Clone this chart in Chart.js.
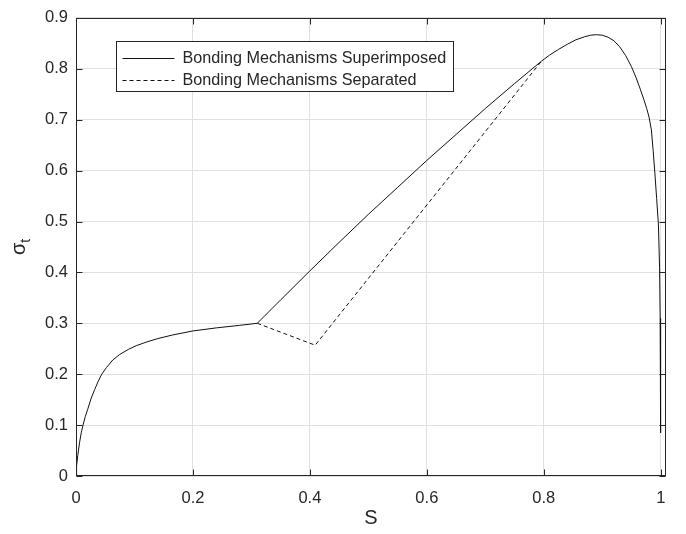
<!DOCTYPE html>
<html>
<head>
<meta charset="utf-8">
<script src="https://cdn.jsdelivr.net/npm/chart.js@4.4.0/dist/chart.umd.min.js"></script>
<style>
html,body{margin:0;padding:0;background:#fff;}
#wrap{width:686px;height:534px;}
</style>
</head>
<body>
<div id="wrap"><canvas id="c" width="686" height="534"></canvas></div>
<script>
// ---- data ----
const superS = [0, 0.001, 0.003, 0.006, 0.009, 0.012, 0.016, 0.020, 0.026, 0.032, 0.038, 0.044, 0.052, 0.063, 0.075, 0.090, 0.103, 0.120, 0.140, 0.165, 0.200, 0.240, 0.280, 0.310,
  0.350, 0.400, 0.450, 0.500, 0.550, 0.600, 0.650, 0.700, 0.750, 0.796,
  0.810, 0.825, 0.840, 0.855, 0.870, 0.880, 0.890, 0.900, 0.910, 0.920, 0.930, 0.940, 0.950, 0.958, 0.965, 0.971, 0.976, 0.980, 0.984, 0.987, 0.990, 0.993, 0.996, 0.998, 0.999, 0.9995, 1.000];
const superSigma = [0, 0.020, 0.040, 0.065, 0.085, 0.100, 0.117, 0.131, 0.153, 0.170, 0.186, 0.200, 0.213, 0.228, 0.239, 0.249, 0.256, 0.263, 0.270, 0.277, 0.285, 0.291, 0.296, 0.300,
  0.346, 0.403, 0.459, 0.514, 0.567, 0.620, 0.671, 0.722, 0.771, 0.815,
  0.827, 0.838, 0.848, 0.857, 0.863, 0.866, 0.867, 0.866, 0.862, 0.855, 0.843, 0.826, 0.804, 0.782, 0.760, 0.740, 0.722, 0.705, 0.680, 0.640, 0.595, 0.545, 0.495, 0.410, 0.310, 0.200, 0.085];
const sepS = [0.310, 0.409, 0.796];
const sepSigma = [0.300, 0.257, 0.815];
const xTicks = [0, 0.2, 0.4, 0.6, 0.8, 1];
const yTicks = [0, 0.1, 0.2, 0.3, 0.4, 0.5, 0.6, 0.7, 0.8, 0.9];
const seriesLabels = ['Bonding Mechanisms Superimposed', 'Bonding Mechanisms Separated'];
const xTitle = 'S';
const yTitleMain = 'σ';
const yTitleSub = 't';

const FONT = "'Liberation Sans', Arial, Helvetica, sans-serif";
const AXIS = '#262626';
const GRID = '#e0e0e0';

const toPts = (xs, ys) => xs.map((x, i) => ({x: x, y: ys[i]}));

const matlabAxes = {
  id: 'matlabAxes',
  afterDatasetsDraw(chart) {
    const ctx = chart.ctx;
    const a = chart.chartArea;
    const xs = chart.scales.x, ys = chart.scales.y;
    ctx.save();
    ctx.strokeStyle = AXIS;
    ctx.lineWidth = 1;
    ctx.beginPath();
    const L = Math.round(a.left) + 0.5, R = Math.round(a.right) - 0.5;
    const T = Math.round(a.top) + 0.5, B = Math.round(a.bottom) - 0.5;
    const tl = 6;
    xTicks.forEach(v => {
      const p = Math.round(xs.getPixelForValue(v)) + 0.5;
      ctx.moveTo(p, B); ctx.lineTo(p, B - tl);
      ctx.moveTo(p, T); ctx.lineTo(p, T + tl);
    });
    yTicks.forEach(v => {
      const p = Math.round(ys.getPixelForValue(v)) + 0.5;
      ctx.moveTo(L, p); ctx.lineTo(L + tl, p);
      ctx.moveTo(R, p); ctx.lineTo(R - tl, p);
    });
    ctx.stroke();
    ctx.strokeRect(L, T, R - L, B - T);

    // legend
    const lf = 16.2;
    ctx.font = lf + 'px ' + FONT;
    const tw = Math.max(...seriesLabels.map(s => ctx.measureText(s).width));
    const lx = Math.round(a.left + 40) + 0.5;
    const ly = Math.round(a.top + 23) + 0.5;
    const lw = Math.round(tw + 73), lh = 50;
    ctx.fillStyle = '#fff';
    ctx.fillRect(lx, ly, lw, lh);
    ctx.strokeStyle = AXIS;
    ctx.strokeRect(lx, ly, lw, lh);
    chart.data.datasets.forEach((ds, i) => {
      const ry = Math.round(ly + 16 + i * 22) + 0.5;
      ctx.beginPath();
      ctx.strokeStyle = ds.borderColor;
      ctx.lineWidth = ds.borderWidth;
      ctx.setLineDash(ds.borderDash || []);
      ctx.moveTo(lx + 6, ry); ctx.lineTo(lx + 58, ry);
      ctx.stroke();
      ctx.setLineDash([]);
      ctx.fillStyle = AXIS;
      ctx.textBaseline = 'middle';
      ctx.textAlign = 'left';
      ctx.fillText(ds.label, lx + 66, ry);
    });

    // y title sigma_t
    const mf = 20, sf = 14;
    ctx.font = mf + 'px ' + FONT;
    const w1 = ctx.measureText(yTitleMain).width;
    ctx.font = sf + 'px ' + FONT;
    const w2 = ctx.measureText(yTitleSub).width;
    const cy = (a.top + a.bottom) / 2;
    ctx.translate(25, cy + (w1 + w2) / 2);
    ctx.rotate(-Math.PI / 2);
    ctx.fillStyle = AXIS;
    ctx.textAlign = 'left';
    ctx.textBaseline = 'alphabetic';
    ctx.font = mf + 'px ' + FONT;
    ctx.fillText(yTitleMain, 0, 0);
    ctx.font = sf + 'px ' + FONT;
    ctx.fillText(yTitleSub, w1, 5);
    ctx.restore();
  }
};

new Chart(document.getElementById('c'), {
  type: 'line',
  data: {
    datasets: [
      {
        label: seriesLabels[0],
        data: toPts(superS, superSigma),
        borderColor: '#111111',
        borderWidth: 1,
        pointRadius: 0,
        tension: 0,
        fill: false
      },
      {
        label: seriesLabels[1],
        data: toPts(sepS, sepSigma),
        borderColor: '#111111',
        borderWidth: 1,
        borderDash: [4, 3],
        pointRadius: 0,
        tension: 0,
        fill: false
      }
    ]
  },
  options: {
    responsive: false,
    devicePixelRatio: 1,
    animation: false,
    layout: {padding: {top: 10, right: 20, left: 0, bottom: 0}},
    plugins: {legend: {display: false}, tooltip: {enabled: false}},
    scales: {
      x: {
        type: 'linear',
        min: 0,
        max: 1.009,
        afterBuildTicks: s => { s.ticks = xTicks.map(v => ({value: v})); },
        afterFit: s => { s.height = 58; },
        grid: {color: GRID, lineWidth: 1, drawTicks: false},
        border: {display: false},
        ticks: {
          color: AXIS,
          padding: 13,
          maxRotation: 0,
          font: {family: FONT, size: 16.5},
          callback: v => String(v)
        },
        title: {
          display: true,
          text: xTitle,
          color: AXIS,
          font: {family: FONT, size: 20},
          padding: {top: 0, bottom: 4}
        }
      },
      y: {
        type: 'linear',
        min: 0,
        max: 0.9,
        afterBuildTicks: s => { s.ticks = yTicks.map(v => ({value: v})); },
        afterFit: s => { s.width = 76; },
        grid: {color: GRID, lineWidth: 1, drawTicks: false},
        border: {display: false},
        ticks: {
          color: AXIS,
          padding: 8,
          font: {family: FONT, size: 16.5},
          callback: v => String(v)
        }
      }
    }
  },
  plugins: [matlabAxes]
});
</script>
</body>
</html>
